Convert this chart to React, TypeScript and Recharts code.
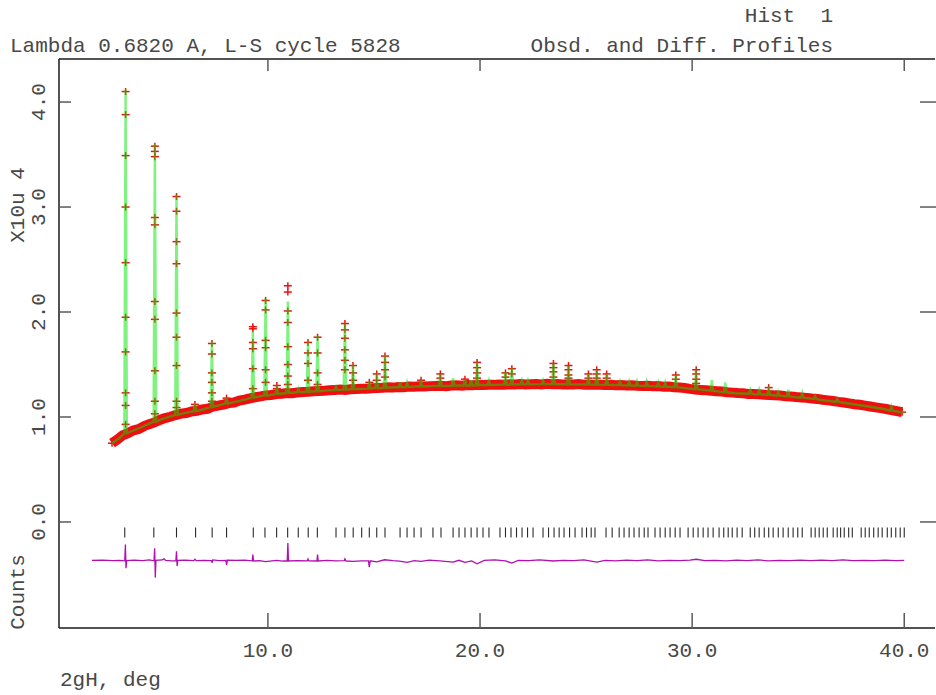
import React from 'react';
import { ComposedChart, Line, Scatter, XAxis, YAxis } from 'recharts';

const W = 936;
const H = 695;
const FONT = '"Liberation Mono", "DejaVu Sans Mono", monospace';
const TEXT = '#484848';
const FRAME = '#1a1a1a';
const TICK = '#5a5a5a';

// observed points along the background, constant-step scan (2theta deg, counts x10^4)
const obsStart = 2.65;
const obsStep = 0.25;
const obsBackground = [
  0.750, 0.785, 0.825, 0.845, 0.872, 0.885, 0.912, 0.932, 0.948, 0.972,
  0.990, 1.002, 1.018, 1.032, 1.038, 1.052, 1.058, 1.072, 1.078, 1.098,
  1.108, 1.118, 1.132, 1.138, 1.156, 1.165, 1.178, 1.188, 1.196, 1.206,
  1.210, 1.218, 1.222, 1.228, 1.226, 1.234, 1.238, 1.240, 1.246, 1.248,
  1.250, 1.254, 1.256, 1.262, 1.258, 1.264, 1.266, 1.270, 1.268, 1.274,
  1.276, 1.278, 1.282, 1.280, 1.286, 1.284, 1.290, 1.288, 1.292, 1.290,
  1.294, 1.296, 1.298, 1.294, 1.300, 1.302, 1.298, 1.304, 1.302, 1.306,
  1.304, 1.308, 1.306, 1.310, 1.308, 1.312, 1.310, 1.314, 1.310, 1.312,
  1.314, 1.310, 1.316, 1.312, 1.314, 1.310, 1.312, 1.310, 1.314, 1.308,
  1.310, 1.306, 1.308, 1.304, 1.306, 1.302, 1.304, 1.300, 1.302, 1.298,
  1.296, 1.298, 1.292, 1.294, 1.288, 1.290, 1.284, 1.280, 1.276, 1.268,
  1.262, 1.258, 1.254, 1.250, 1.246, 1.242, 1.236, 1.232, 1.228, 1.226,
  1.220, 1.218, 1.216, 1.212, 1.210, 1.206, 1.204, 1.198, 1.196, 1.190,
  1.186, 1.182, 1.176, 1.172, 1.164, 1.158, 1.152, 1.144, 1.138, 1.130,
  1.122, 1.116, 1.108, 1.100, 1.092, 1.084, 1.076, 1.066, 1.056, 1.046,
];

// calculated background
const calcBgTheta = [
  2.65, 3, 4, 5, 6, 7, 8, 9, 10, 11, 12, 13, 14, 15, 16, 17, 18, 19, 20, 21,
  22, 23, 24, 25, 26, 27, 28, 29, 30, 31, 32, 33, 34, 35, 36, 37, 38, 39, 40,
];
const calcBg = [
  0.750, 0.800, 0.900, 0.980, 1.035, 1.075, 1.125, 1.170, 1.205, 1.230,
  1.243, 1.256, 1.266, 1.275, 1.283, 1.290, 1.296, 1.300, 1.304, 1.308,
  1.311, 1.313, 1.312, 1.310, 1.306, 1.300, 1.294, 1.286, 1.266, 1.248,
  1.226, 1.214, 1.202, 1.186, 1.164, 1.140, 1.110, 1.078, 1.040,
];

// Bragg peaks: position, calculated top, local background
const peakTheta = [
  3.29, 4.67, 5.69, 6.56, 7.36, 8.05, 9.29, 9.89, 10.42, 10.94,
  11.43, 11.89, 12.34, 13.21, 13.63, 14.01, 14.78, 15.13, 15.52, 16.23,
  16.56, 17.22, 18.13, 18.73, 19.29, 19.58, 19.86, 20.42, 21.20, 21.50,
  21.97, 22.26, 22.97, 23.46, 24.17, 25.11, 25.50, 25.97, 26.60, 27.03,
  27.40, 27.86, 28.40, 28.73, 29.23, 30.19, 30.93, 31.56, 32.74, 33.16,
  33.61, 34.06, 34.53, 35.19, 35.80, 36.84, 39.39,
];
const peakCalc = [
  4.12, 3.60, 3.12, 1.13, 1.72, 1.18, 1.82, 2.13, 1.30, 2.10,
  1.27, 1.72, 1.77, 1.29, 1.89, 1.50, 1.34, 1.42, 1.59, 1.33,
  1.33, 1.35, 1.41, 1.37, 1.36, 1.35, 1.52, 1.35, 1.43, 1.47,
  1.35, 1.35, 1.35, 1.51, 1.49, 1.41, 1.45, 1.41, 1.34, 1.34,
  1.34, 1.34, 1.33, 1.33, 1.40, 1.45, 1.35, 1.33, 1.26, 1.26,
  1.29, 1.24, 1.26, 1.23, 1.20, 1.17, 1.10,
];
const peakBase = [
  0.845, 0.955, 1.020, 1.055, 1.095, 1.128, 1.185, 1.205, 1.220, 1.228,
  1.235, 1.240, 1.245, 1.256, 1.260, 1.265, 1.270, 1.275, 1.278, 1.283,
  1.285, 1.290, 1.296, 1.298, 1.300, 1.300, 1.302, 1.305, 1.308, 1.309,
  1.311, 1.311, 1.313, 1.313, 1.312, 1.310, 1.308, 1.306, 1.304, 1.300,
  1.298, 1.295, 1.290, 1.288, 1.284, 1.264, 1.250, 1.235, 1.222, 1.216,
  1.210, 1.203, 1.196, 1.185, 1.172, 1.145, 1.060,
];
// observed points measured on each peak
const peakObs: number[][] = [
  [4.10, 3.88, 3.49, 3.00, 2.47, 1.95, 1.62, 1.23, 1.11, 0.93],
  [3.58, 3.53, 3.48, 2.90, 2.83, 2.10, 1.93, 1.44, 1.15, 1.03],
  [3.10, 2.96, 2.67, 2.46, 1.99, 1.76, 1.49, 1.15, 1.09],
  [1.12, 1.09],
  [1.70, 1.60, 1.42, 1.33, 1.23, 1.15],
  [1.18],
  [1.86, 1.84, 1.71, 1.65, 1.46, 1.27],
  [2.11, 2.02, 1.73, 1.66, 1.45, 1.33],
  [1.30, 1.27],
  [2.25, 2.19, 2.01, 1.90, 1.67, 1.50, 1.39, 1.31],
  [],
  [1.71, 1.61, 1.51, 1.35],
  [1.76, 1.61, 1.42, 1.31],
  [],
  [1.89, 1.83, 1.75, 1.64, 1.54, 1.45],
  [1.49, 1.42, 1.35, 1.30],
  [1.33],
  [1.41, 1.35],
  [1.58, 1.52, 1.45, 1.38],
  [], [], [1.35], [1.41, 1.37], [], [1.36], [],
  [1.52, 1.47, 1.42, 1.37],
  [], [1.42, 1.38], [1.46, 1.41], [], [], [],
  [1.51, 1.47, 1.43, 1.38],
  [1.49, 1.45, 1.40, 1.37],
  [1.41, 1.37],
  [1.45, 1.41, 1.37],
  [1.41, 1.37],
  [], [], [], [], [], [],
  [1.40, 1.36],
  [1.45, 1.41, 1.36, 1.32],
  [], [], [], [], [1.28], [], [], [], [], [], [],
];
const peakHalfWidth = 0.06;

// reflection markers (2theta deg)
const reflections = [
  3.25, 4.62, 5.69, 6.59, 7.37, 8.05, 9.31, 9.86, 10.41, 10.93, 11.43, 11.90, 12.33,
  13.21, 13.63, 14.02, 14.42, 14.78, 15.13, 15.52, 16.23, 16.56, 16.89, 17.22, 17.78, 18.16,
  18.73, 19.01, 19.29, 19.58, 19.86, 20.14, 20.42,
  20.94, 21.20, 21.46, 21.72, 21.98, 22.24, 22.50,
  22.97, 23.23, 23.49, 23.73, 23.96, 24.22, 24.48,
  24.81, 25.02, 25.24, 25.42, 25.94, 26.23,
  26.56, 26.79, 27.03, 27.26, 27.50, 27.74, 27.92,
  28.25, 28.49, 28.73, 28.96, 29.20, 29.43,
  29.81, 30.05, 30.28, 30.52, 30.75, 30.99,
  31.27, 31.49, 31.70, 31.89, 32.12, 32.36,
  32.74, 32.95, 33.16, 33.40, 33.61, 33.82,
  34.06, 34.29, 34.53, 34.76, 34.98, 35.19,
  35.61, 35.80, 35.99, 36.18, 36.37,
  36.65, 36.84, 37.00, 37.17, 37.38, 37.55,
  37.97, 38.16, 38.35, 38.56, 38.77, 38.96,
  39.20, 39.39, 39.60, 39.81, 40.00,
];
const reflectionLevel = -0.1;

// difference curve, obs - calc drawn below the zero line
const diffCurve: [number, number][] = [
  [1.70, -0.366], [2.2, -0.364], [2.7, -0.368], [3.0, -0.365], [3.25, -0.37], [3.28, -0.215],
  [3.31, -0.44], [3.34, -0.368], [3.7, -0.363], [4.1, -0.368], [4.4, -0.362], [4.63, -0.37],
  [4.66, -0.25], [4.69, -0.53], [4.72, -0.366], [5.02, -0.362], [5.1, -0.352], [5.18, -0.366],
  [5.45, -0.37], [5.66, -0.368], [5.69, -0.28], [5.72, -0.42], [5.75, -0.366], [6.1, -0.364],
  [6.5, -0.368], [6.56, -0.355], [6.62, -0.368], [7.0, -0.365], [7.34, -0.368], [7.37, -0.39],
  [7.40, -0.362], [7.7, -0.368], [8.02, -0.366], [8.05, -0.41], [8.09, -0.364], [8.5, -0.366],
  [8.9, -0.364], [9.26, -0.37], [9.29, -0.31], [9.32, -0.372], [9.6, -0.368], [9.89, -0.378],
  [10.2, -0.37], [10.42, -0.365], [10.7, -0.372], [10.91, -0.372], [10.94, -0.20], [10.97, -0.372],
  [11.4, -0.368], [11.86, -0.37], [11.89, -0.352], [11.93, -0.37], [12.31, -0.372], [12.34, -0.31],
  [12.37, -0.372], [12.8, -0.366], [13.2, -0.37], [13.6, -0.368], [13.63, -0.352], [13.68, -0.372],
  [14.01, -0.375], [14.4, -0.37], [14.74, -0.37], [14.78, -0.43], [14.82, -0.37], [15.13, -0.38],
  [15.5, -0.36], [15.9, -0.368], [16.2, -0.372], [16.56, -0.385], [16.9, -0.368], [17.22, -0.376],
  [17.6, -0.364], [18.1, -0.37], [18.73, -0.382], [19.0, -0.365], [19.29, -0.384], [19.6, -0.37],
  [19.86, -0.398], [20.2, -0.366], [20.7, -0.362], [21.2, -0.37], [21.5, -0.392], [21.8, -0.366],
  [22.3, -0.368], [22.8, -0.362], [23.46, -0.372], [23.9, -0.366], [24.4, -0.368], [24.9, -0.362],
  [25.5, -0.382], [25.9, -0.366], [26.4, -0.37], [26.9, -0.364], [27.4, -0.368], [27.9, -0.362],
  [28.4, -0.37], [28.9, -0.366], [29.4, -0.368], [29.9, -0.364], [30.19, -0.355], [30.6, -0.368],
  [31.1, -0.366], [31.6, -0.37], [32.1, -0.364], [32.6, -0.368], [33.1, -0.362], [33.6, -0.37],
  [34.1, -0.365], [34.6, -0.368], [35.1, -0.363], [35.6, -0.369], [36.1, -0.364], [36.6, -0.368],
  [37.1, -0.362], [37.6, -0.368], [38.1, -0.365], [38.6, -0.369], [39.1, -0.364], [39.6, -0.368],
  [40.0, -0.366],
];

const xDomain = [0.15, 41.45];
const yDomain = [-1.01, 4.41];
const xTicks = [10, 20, 30, 40];
const yTicks = [0, 1, 2, 3, 4];

// tables for the series
const bandPoints = obsBackground.map((y, i) => ({ x: obsStart + i * obsStep, y }));
const obsPoints = [
  ...bandPoints,
  ...peakTheta.flatMap((x, i) => peakObs[i].map((y) => ({ x, y }))),
].sort((a, b) => a.x - b.x);
const calcPoints = [
  ...calcBgTheta
    .map((x, i) => ({ x, y: calcBg[i] }))
    .filter((p) => peakTheta.every((t) => Math.abs(t - p.x) > 0.1)),
  ...peakTheta.flatMap((x, i) => [
    { x: x - peakHalfWidth, y: peakBase[i] },
    { x, y: peakCalc[i] },
    { x: x + peakHalfWidth, y: peakBase[i] },
  ]),
].sort((a, b) => a.x - b.x);
const reflectionPoints = reflections.map((x) => ({ x, y: reflectionLevel }));
const diffPoints = diffCurve.map(([x, y]) => ({ x, y }));

function Cross(props: any) {
  const { cx, cy } = props;
  if (cx == null || cy == null) return null;
  return (
    <g stroke="#ee1010" strokeWidth={1.5}>
      <line x1={cx - 4} x2={cx + 4} y1={cy} y2={cy} />
      <line x1={cx} x2={cx} y1={cy - 3.5} y2={cy + 3.5} />
    </g>
  );
}

function RefTick(props: any) {
  const { cx, cy } = props;
  return <line x1={cx} x2={cx} y1={cy - 5} y2={cy + 5} stroke="#2a2a2a" strokeWidth={1.1} />;
}

function BottomTick({ x, y, payload }: any) {
  return (
    <g>
      <line x1={x} x2={x} y1={y} y2={y - 15} stroke={TICK} strokeWidth={1.5} />
      <text x={x} y={y + 29} textAnchor="middle" fontFamily={FONT} fontSize={21} fill={TEXT}>
        {Number(payload.value).toFixed(1)}
      </text>
    </g>
  );
}

function TopTick({ x, y }: any) {
  return <line x1={x} x2={x} y1={y} y2={y + 12} stroke={TICK} strokeWidth={1.5} />;
}

function LeftTick({ x, y, payload }: any) {
  const tx = x - 19;
  return (
    <g>
      <line x1={x} x2={x + 12} y1={y} y2={y} stroke={TICK} strokeWidth={1.5} />
      <text
        x={tx}
        y={y}
        transform={`rotate(-90 ${tx} ${y})`}
        textAnchor="middle"
        dominantBaseline="central"
        fontFamily={FONT}
        fontSize={21}
        fill={TEXT}
      >
        {Number(payload.value).toFixed(1)}
      </text>
    </g>
  );
}

function RightTick({ x, y }: any) {
  return <line x1={x - 15} x2={x + 1} y1={y} y2={y} stroke={TICK} strokeWidth={1.5} />;
}

export default function App() {
  return (
    <div style={{ position: 'absolute', left: 0, top: 0, width: W, height: H, background: '#fff' }}>
      <ComposedChart width={W} height={H} margin={{ top: 58, right: 0, bottom: 0, left: 0 }}>
        <XAxis
          type="number"
          dataKey="x"
          domain={xDomain}
          allowDataOverflow
          ticks={xTicks}
          interval={0}
          height={67}
          tickSize={0}
          tickMargin={0}
          tickLine={false}
          axisLine={{ stroke: FRAME, strokeWidth: 1.5 }}
          tick={<BottomTick />}
        />
        <XAxis
          xAxisId="top"
          orientation="top"
          type="number"
          dataKey="x"
          domain={xDomain}
          allowDataOverflow
          ticks={xTicks}
          interval={0}
          height={1}
          tickSize={0}
          tickMargin={0}
          tickLine={false}
          axisLine={{ stroke: FRAME, strokeWidth: 1.5 }}
          tick={<TopTick />}
        />
        <YAxis
          type="number"
          domain={yDomain}
          allowDataOverflow
          ticks={yTicks}
          interval={0}
          width={59}
          tickSize={0}
          tickMargin={0}
          tickLine={false}
          axisLine={{ stroke: FRAME, strokeWidth: 1.5 }}
          tick={<LeftTick />}
        />
        <YAxis
          yAxisId="right"
          orientation="right"
          type="number"
          domain={yDomain}
          allowDataOverflow
          ticks={yTicks}
          interval={0}
          width={1}
          tickSize={0}
          tickMargin={0}
          tickLine={false}
          axisLine={false}
          tick={<RightTick />}
        />
        <Line
          data={bandPoints}
          dataKey="y"
          type="linear"
          stroke="#ee1010"
          strokeWidth={10}
          dot={false}
          activeDot={false}
          isAnimationActive={false}
          zIndex={300}
        />
        <Line
          data={obsPoints}
          dataKey="y"
          type="linear"
          stroke="none"
          dot={<Cross />}
          activeDot={false}
          isAnimationActive={false}
          zIndex={310}
        />
        <Line
          data={calcPoints}
          dataKey="y"
          type="linear"
          stroke="#00e600"
          strokeOpacity={0.5}
          strokeWidth={2.4}
          dot={false}
          activeDot={false}
          isAnimationActive={false}
          zIndex={800}
        />
        <Scatter
          data={reflectionPoints}
          dataKey="y"
          xAxisId="top"
          yAxisId="right"
          shape={<RefTick />}
          isAnimationActive={false}
        />
        <Line
          data={diffPoints}
          dataKey="y"
          type="linear"
          stroke="#b010b0"
          strokeWidth={1.3}
          dot={false}
          activeDot={false}
          isAnimationActive={false}
          zIndex={810}
        />
      </ComposedChart>
      <svg
        width={W}
        height={H}
        style={{ position: 'absolute', left: 0, top: 0, pointerEvents: 'none' }}
        fontFamily={FONT}
        fontSize={21}
        fill={TEXT}
      >
        <text x={833} y={22} textAnchor="end" style={{ whiteSpace: 'pre' }}>
          {'Hist  1'}
        </text>
        <text x={10} y={52}>Lambda 0.6820 A, L-S cycle 5828</text>
        <text x={833} y={52} textAnchor="end">
          Obsd. and Diff. Profiles
        </text>
        <text x={60} y={686}>2gH, deg</text>
        <text x={18} y={205} transform="rotate(-90 18 205)" textAnchor="middle" dominantBaseline="central">
          X10u 4
        </text>
        <text x={18} y={592} transform="rotate(-90 18 592)" textAnchor="middle" dominantBaseline="central">
          Counts
        </text>
      </svg>
    </div>
  );
}
